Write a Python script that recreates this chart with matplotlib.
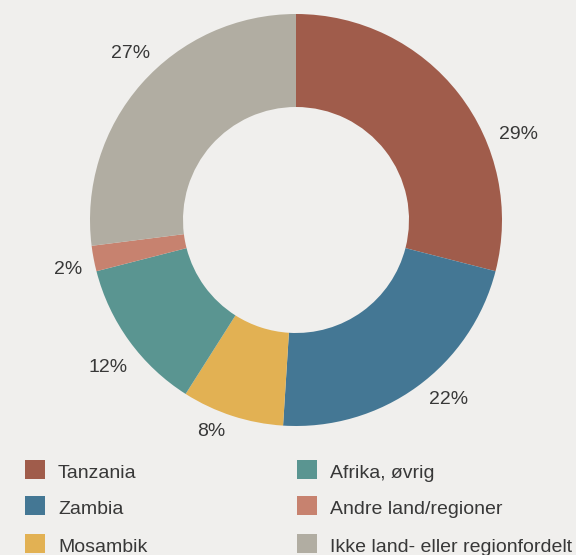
import matplotlib.pyplot as plt
from matplotlib.patches import Rectangle

categories = ["Tanzania", "Zambia", "Mosambik", "Afrika, øvrig", "Andre land/regioner", "Ikke land- eller regionfordelt"]
shares = [29, 22, 8, 12, 2, 27]
pct_labels = ["29%", "22%", "8%", "12%", "2%", "27%"]

colors = ["#a05c4b", "#447794", "#e2b153", "#5a9591", "#c7826f", "#b1ada2"]
BG = "#f0efed"
TEXT = "#383838"

# label spots relative to the centre, in units of the outer radius
label_pos = [(1.080, 0.413), (0.742, -0.869), (-0.410, -1.026),
             (-0.914, -0.717), (-1.108, -0.238), (-0.801, 0.806)]

W, H = 576, 555
CX, CY = 296, 220
R = 206
HALF = 270

plt.rcParams["font.family"] = ["Liberation Sans", "DejaVu Sans"]

fig = plt.figure(figsize=(W / 100, H / 100), dpi=100)
fig.patch.set_facecolor(BG)

ax = fig.add_axes([(CX - HALF) / W, 1 - (CY + HALF) / H, 2 * HALF / W, 2 * HALF / H])
ax.set_facecolor(BG)
ax.axis("off")

ax.pie(
    shares,
    colors=colors,
    startangle=90,
    counterclock=False,
    radius=1.0,
    wedgeprops=dict(width=1 - 113 / 206, linewidth=0),
)
ax.set_xlim(-HALF / R, HALF / R)
ax.set_ylim(-HALF / R, HALF / R)

for (lx, ly), txt in zip(label_pos, pct_labels):
    ax.text(lx, ly, txt, ha="center", va="center", fontsize=14, color=TEXT)

# legend, two columns (pixel positions)
col_x = [25, 297]
row_top = [460, 496, 534]
for i, (name, c) in enumerate(zip(categories, colors)):
    x0 = col_x[i // 3]
    y0 = row_top[i % 3]
    fig.add_artist(Rectangle((x0 / W, 1 - (y0 + 19) / H), 20 / W, 19 / H,
                             transform=fig.transFigure, facecolor=c, edgecolor="none"))
    fig.text((x0 + 33) / W, 1 - (y0 + 18) / H, name, ha="left", va="baseline",
             fontsize=14, color=TEXT)

fig.savefig("out.png", dpi=100, facecolor=BG)
